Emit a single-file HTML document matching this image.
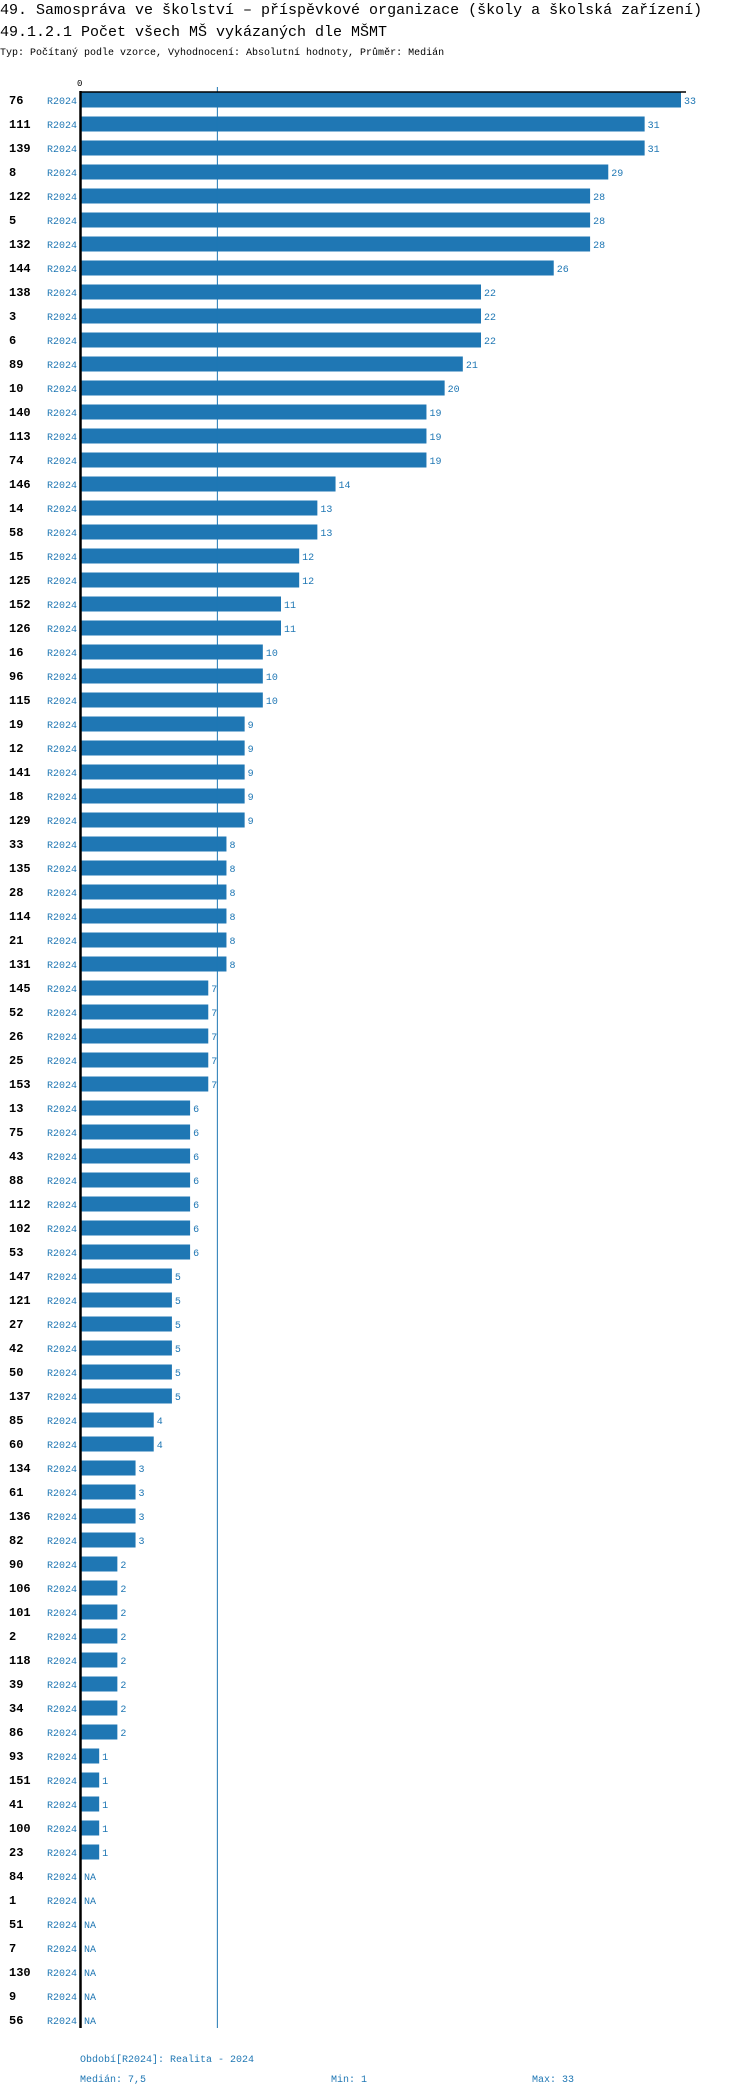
<!DOCTYPE html>
<html><head><meta charset="utf-8"><style>
body{margin:0;background:#fff;}
svg{display:block;}
.t{font-family:"Liberation Mono",monospace;}
</style></head><body>
<svg id="c" width="750" height="2096" xmlns="http://www.w3.org/2000/svg">
<text class="t" x="0" y="14" font-size="15" fill="#000">49. Samospráva ve školství – příspěvkové organizace (školy a školská zařízení)</text>
<text class="t" x="0" y="36" font-size="15" fill="#000">49.1.2.1 Počet všech MŠ vykázaných dle MŠMT</text>
<text class="t" x="0" y="55" font-size="10" fill="#000">Typ: Počítaný podle vzorce, Vyhodnocení: Absolutní hodnoty, Průměr: Medián</text>
<g id="plot"></g>
<text class="t" x="80" y="2062" font-size="10" fill="#1f77b4">Období[R2024]: Realita - 2024</text>
<text class="t" x="80" y="2082" font-size="10" fill="#1f77b4">Medián: 7,5</text>
<text class="t" x="331" y="2082" font-size="10" fill="#1f77b4">Min: 1</text>
<text class="t" x="532" y="2082" font-size="10" fill="#1f77b4">Max: 33</text>
</svg>
<script>
const categories=["76","111","139","8","122","5","132","144","138","3","6","89","10","140","113","74","146","14","58","15","125","152","126","16","96","115","19","12","141","18","129","33","135","28","114","21","131","145","52","26","25","153","13","75","43","88","112","102","53","147","121","27","42","50","137","85","60","134","61","136","82","90","106","101","2","118","39","34","86","93","151","41","100","23","84","1","51","7","130","9","56"];
const values=[33,31,31,29,28,28,28,26,22,22,22,21,20,19,19,19,14,13,13,12,12,11,11,10,10,10,9,9,9,9,9,8,8,8,8,8,8,7,7,7,7,7,6,6,6,6,6,6,6,5,5,5,5,5,5,4,4,3,3,3,3,2,2,2,2,2,2,2,2,1,1,1,1,1,null,null,null,null,null,null,null];
const median=7.5;
const maxDomain=33;
const period="R2024";
const NS="http://www.w3.org/2000/svg";
const x0=81,x1=681,top0=92,pitch=24,bh=15;
const xs=v=>x0+v*(x1-x0)/maxDomain;
const g=document.getElementById('plot');
function mk(tag,a){const e=document.createElementNS(NS,tag);for(const k in a)e.setAttribute(k,a[k]);g.appendChild(e);return e;}
const bottom=top0+categories.length*pitch-8;
categories.forEach((c,i)=>{
  const y=top0+i*pitch+0.5;
  const cy=y+bh/2+4;
  const lab=mk('text',{x:9,y:cy,'font-size':12,'font-weight':'bold',fill:'#000',class:'t'});lab.textContent=c;
  
  
  const pl=mk('text',{x:47,y:cy,'font-size':10,fill:'#1f77b4',class:'t'});pl.textContent=period;
  
  
  const v=values[i];
  if(v!==null){
    const r=mk('rect',{x:x0,y:y,width:xs(v)-x0,height:bh,fill:'#1f77b4'});
    
    
  }
  const vt=mk('text',{x:(v===null?x0:xs(v))+3,y:cy,'font-size':10,fill:'#1f77b4',class:'t'});vt.textContent=v===null?'NA':v;
  
  
});
const ml=mk('line',{x1:xs(median),x2:xs(median),y1:87,y2:bottom,stroke:'#1f77b4','stroke-width':1});


const ax=mk('line',{x1:x0-0.5,x2:x0-0.5,y1:91,y2:bottom,stroke:'#000','stroke-width':2.5});


const tl=mk('line',{x1:x0-1,x2:686,y1:92,y2:92,stroke:'#000','stroke-width':1.5});


const z=mk('text',{x:x0-4,y:86,'font-size':9,fill:'#000',class:'t'});z.textContent='0';


</script>
</body></html>
